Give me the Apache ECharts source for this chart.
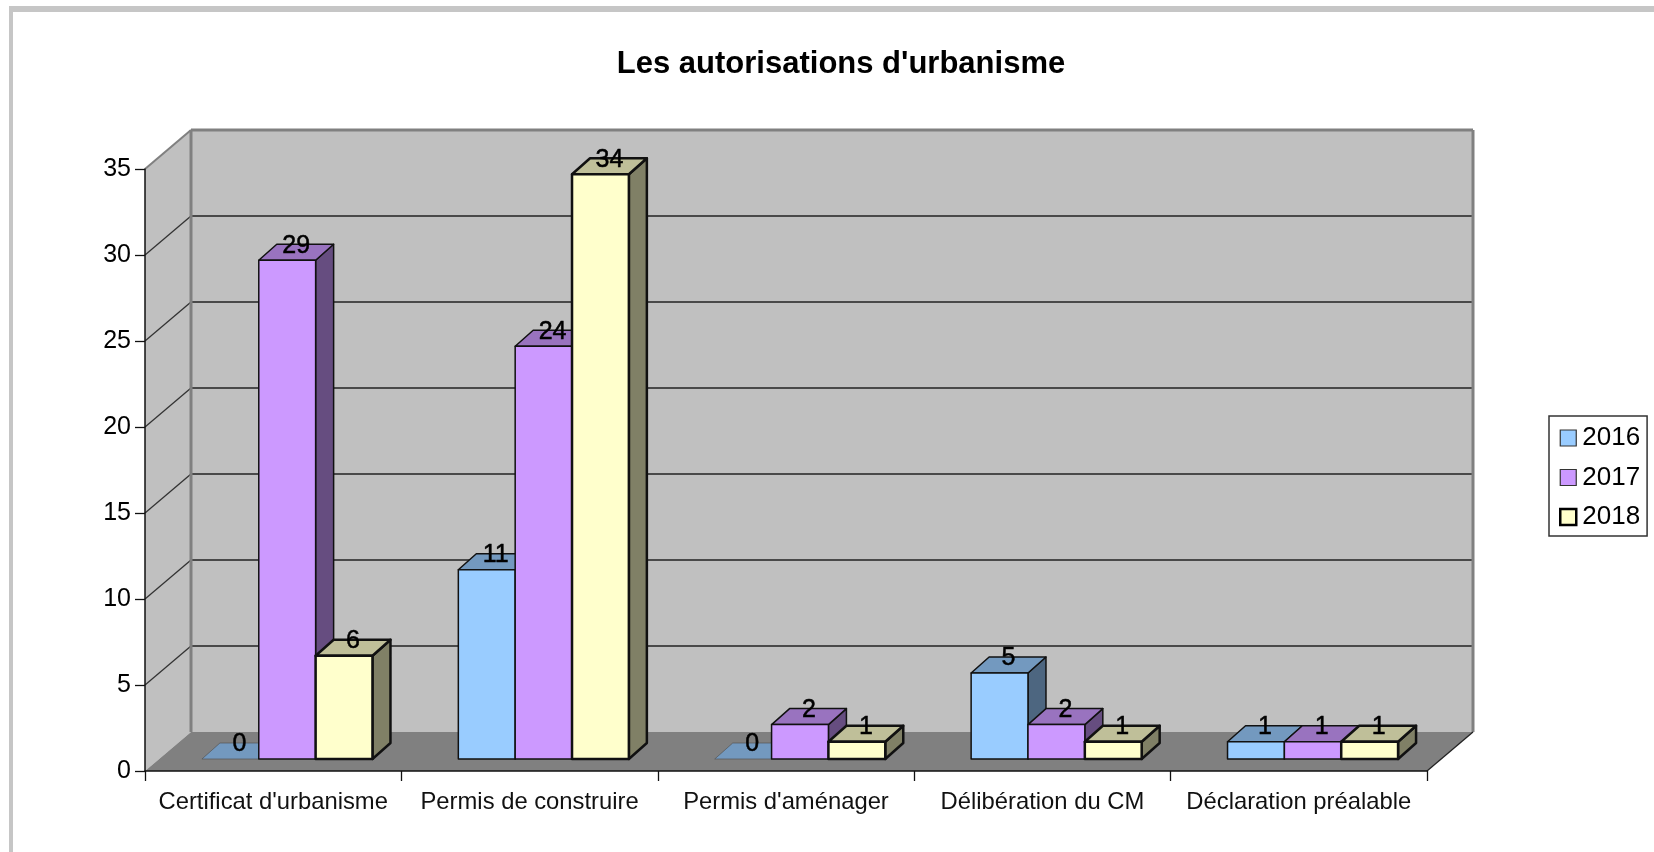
<!DOCTYPE html>
<html>
<head>
<meta charset="utf-8">
<style>html,body{margin:0;padding:0;background:#fff}#c{width:1654px;height:852px}</style>
<script src="https://cdn.jsdelivr.net/npm/echarts@6/dist/echarts.min.js"></script>
</head>
<body>
<div id="c"></div>
<script>
const categories = ["Certificat d'urbanisme", "Permis de construire", "Permis d'aménager", "Délibération du CM", "Déclaration préalable"];
const values2016 = [0, 11, 0, 5, 1];
const values2017 = [29, 24, 2, 2, 1];
const values2018 = [6, 34, 1, 1, 1];
const yTicks = [0, 5, 10, 15, 20, 25, 30, 35];
const titleText = "Les autorisations d'urbanisme";

const FONT = '"Liberation Sans", Arial, sans-serif';
const WALL_DX = 46, WALL_DY = -39;      // full depth of the 3D box
const PLANE_DX = 14, PLANE_DY = -12;    // where the bars' front faces sit
const BAR_DX = 18, BAR_DY = -16;        // depth of each bar

function shade(rgb, k) {
  return 'rgb(' + rgb.map(c => Math.round(c * k)).join(',') + ')';
}

function frameRender(params, api) {
  const cs = params.coordSys;
  const x0 = cs.x, x1 = cs.x + cs.width;
  const yOf = v => api.coord([0, v])[1];
  const y0 = yOf(yTicks[0]), yTop = yOf(yTicks[yTicks.length - 1]);
  const bx0 = x0 + WALL_DX, bx1 = x1 + WALL_DX;
  const children = [];
  const poly = (pts, fill) => children.push({type: 'polygon', shape: {points: pts}, style: {fill: fill}});
  const line = (a, b, stroke, w) => children.push({type: 'line', shape: {x1: a[0], y1: a[1], x2: b[0], y2: b[1]}, style: {stroke: stroke, lineWidth: w}});
  poly([[bx0, yTop + WALL_DY], [bx1, yTop + WALL_DY], [bx1, y0 + WALL_DY], [bx0, y0 + WALL_DY]], '#c0c0c0');
  poly([[x0, yTop], [bx0, yTop + WALL_DY], [bx0, y0 + WALL_DY], [x0, y0]], '#c0c0c0');
  poly([[x0, y0], [bx0, y0 + WALL_DY], [bx1, y0 + WALL_DY], [x1, y0]], '#808080');
  yTicks.slice(1, -1).forEach(v => {
    const y = yOf(v);
    line([x0, y], [bx0, y + WALL_DY], '#333', 1.3);
    line([bx0, y + WALL_DY], [bx1, y + WALL_DY], '#222', 1.5);
  });
  line([x0, yTop], [bx0, yTop + WALL_DY], '#808080', 2);
  line([bx0, yTop + WALL_DY], [bx1, yTop + WALL_DY], '#808080', 3);
  line([bx0, yTop + WALL_DY], [bx0, y0 + WALL_DY], '#808080', 3);
  line([bx1, yTop + WALL_DY], [bx1, y0 + WALL_DY], '#808080', 3);
  line([x1, y0], [bx1, y0 + WALL_DY], '#222', 1.3);
  return {type: 'group', children: children};
}

function barRender(index, rgb, lineW) {
  return function (params, api) {
    const cat = api.value(0), val = api.value(1);
    const band = api.size([1, 0])[0];
    const w = band * 0.2217;
    const base = api.coord([cat, 0]);
    const top = api.coord([cat, val]);
    const xl = base[0] - 1.5 * w + index * w + PLANE_DX;
    const xr = xl + w;
    const yb = base[1] + PLANE_DY;
    const yt = top[1] + PLANE_DY;
    const edge = {stroke: '#111', lineWidth: lineW, lineJoin: 'round'};
    const children = [];
    if (val > 0) {
      children.push({type: 'polygon', shape: {points: [[xr, yb], [xr + BAR_DX, yb + BAR_DY], [xr + BAR_DX, yt + BAR_DY], [xr, yt]]}, style: Object.assign({fill: shade(rgb, 0.5)}, edge)});
    }
    children.push({type: 'polygon', shape: {points: [[xl, yt], [xl + BAR_DX, yt + BAR_DY], [xr + BAR_DX, yt + BAR_DY], [xr, yt]]}, style: val > 0 ? Object.assign({fill: shade(rgb, 0.75)}, edge) : {fill: shade(rgb, 0.75), stroke: '#555', lineWidth: 0.7}});
    if (val > 0) {
      children.push({type: 'rect', shape: {x: xl, y: yt, width: w, height: yb - yt}, style: Object.assign({fill: shade(rgb, 1)}, edge)});
    }
    children.push({type: 'text', z2: 50, style: {text: String(val), x: (xl + xr) / 2 + BAR_DX / 2, y: yt + BAR_DY + 1.5, fill: '#000', stroke: '#000', lineWidth: 0.5, font: '25px ' + FONT, align: 'center', verticalAlign: 'middle'}});
    return {type: 'group', children: children};
  };
}

function barSeries(name, values, index, rgb, lineW) {
  return {
    name: name, type: 'custom', coordinateSystem: 'cartesian2d', z: 3 + index, silent: true,
    itemStyle: {color: shade(rgb, 1)},
    renderItem: barRender(index, rgb, lineW),
    encode: {x: 0, y: 1},
    data: values.map((v, i) => [i, v])
  };
}

const chart = echarts.init(document.getElementById('c'), null, {renderer: 'canvas'});
chart.setOption({
  animation: false,
  backgroundColor: '#fff',
  title: {
    text: titleText, left: 836, top: 59, textAlign: 'center', textVerticalAlign: 'middle',
    textStyle: {fontFamily: FONT, fontSize: 31, fontWeight: 'bold', color: '#000'}
  },
  graphic: [
    {type: 'rect', silent: true, z: 100, shape: {x: 9, y: 6, width: 1645, height: 6}, style: {fill: '#c6c6c6'}},
    {type: 'rect', silent: true, z: 100, shape: {x: 9, y: 6, width: 4, height: 846}, style: {fill: '#c6c6c6'}}
  ],
  legend: {
    orient: 'vertical', left: 1549, top: 416, padding: [9, 7, 6, 10], itemWidth: 16, itemHeight: 16, itemGap: 13.5,
    backgroundColor: '#fff', borderColor: '#333', borderWidth: 1.5, borderRadius: 0,
    selectedMode: false, icon: 'rect',
    textStyle: {fontFamily: FONT, fontSize: 26, color: '#000', padding: [2, 0, 0, 1]},
    data: [
      {name: '2016', itemStyle: {color: '#99ccff', borderColor: '#333', borderWidth: 1.2}},
      {name: '2017', itemStyle: {color: '#cc99ff', borderColor: '#333', borderWidth: 1.2}},
      {name: '2018', itemStyle: {color: '#ffffcc', borderColor: '#000', borderWidth: 2.5}}
    ]
  },
  grid: {left: 145, right: 227, top: 169, bottom: 81},
  xAxis: {
    type: 'category', data: categories, boundaryGap: true, z: 20,
    axisLine: {lineStyle: {color: '#111', width: 1.5}},
    axisTick: {show: true, length: 10, alignWithLabel: false, lineStyle: {color: '#111', width: 1.3}},
    axisLabel: {interval: 0, margin: 19, fontFamily: FONT, fontSize: 23.8, color: '#111'},
    splitLine: {show: false}
  },
  yAxis: {
    type: 'value', min: 0, max: 35, interval: 5, z: 20,
    axisLine: {show: true, lineStyle: {color: '#111', width: 1.5}},
    axisTick: {show: true, length: 10, lineStyle: {color: '#111', width: 1.3}},
    axisLabel: {margin: 14, fontFamily: FONT, fontSize: 25, color: '#000'},
    splitLine: {show: false}
  },
  series: [
    {name: 'frame', type: 'custom', coordinateSystem: 'cartesian2d', z: 1, silent: true, renderItem: frameRender, encode: {x: 0, y: 1}, data: [[0, 0]]},
    barSeries('2016', values2016, 0, [153, 204, 255], 1.5),
    barSeries('2017', values2017, 1, [204, 153, 255], 1.5),
    barSeries('2018', values2018, 2, [255, 255, 204], 2.5)
  ]
});
</script>
</body>
</html>
